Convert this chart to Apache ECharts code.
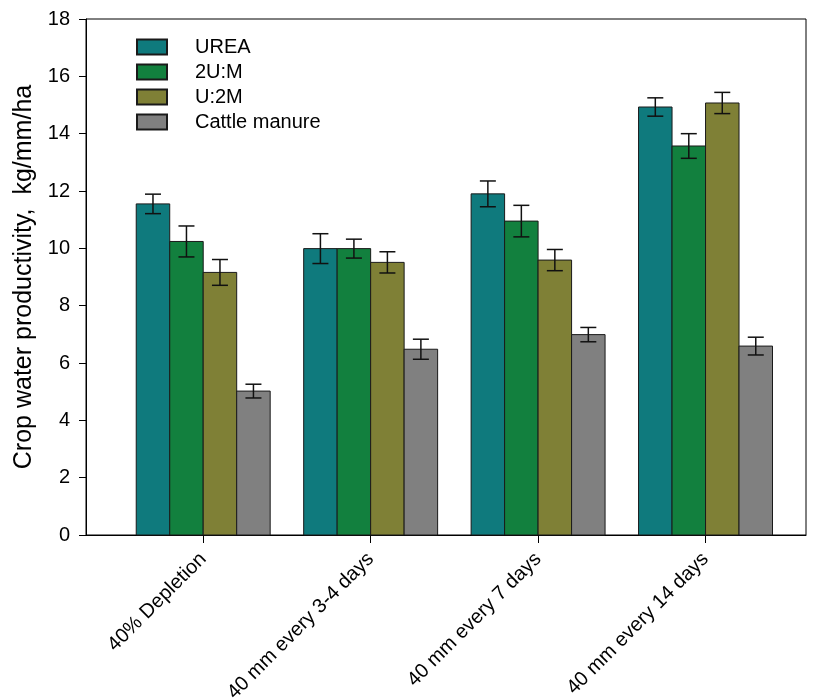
<!DOCTYPE html>
<html>
<head>
<meta charset="utf-8">
<script src="https://cdn.jsdelivr.net/npm/echarts@6/dist/echarts.min.js"></script>
<style>html,body{margin:0;padding:0;background:#fff}#c{width:817px;height:700px}</style>
</head>
<body>
<div id="c"></div>
<script>
const categories = ['40% Depletion', '40 mm every 3-4 days', '40 mm every 7 days', '40 mm every 14 days'];
const seriesNames = ['UREA', '2U:M', 'U:2M', 'Cattle manure'];
const ureaVals = [11.55, 9.99, 11.90, 14.93];
const ureaErr = [0.34, 0.52, 0.45, 0.32];
const u2mVals = [10.24, 9.99, 10.95, 13.57];
const u2mErr = [0.54, 0.33, 0.55, 0.43];
const um2Vals = [9.16, 9.51, 9.59, 15.07];
const um2Err = [0.45, 0.37, 0.37, 0.37];
const manureVals = [5.02, 6.48, 6.99, 6.59];
const manureErr = [0.24, 0.35, 0.25, 0.31];

const colors = ['#0f7a7d', '#12803e', '#7f8036', '#808080'];
const allVals = [ureaVals, u2mVals, um2Vals, manureVals];
const allErr = [ureaErr, u2mErr, um2Err, manureErr];
const barW = 0.2;
const offsets = [-1.5, -0.5, 0.5, 1.5].map(k => k * barW);
const FONT = 'Liberation Sans, Arial, sans-serif';

function makeSeries(s) {
  return {
    name: seriesNames[s],
    type: 'custom',
    itemStyle: { color: colors[s], borderColor: '#1a1a1a', borderWidth: 1 },
    encode: { x: 0, y: 1 },
    data: categories.map((c, i) => [i + 1, allVals[s][i], allErr[s][i]]),
    renderItem: function (params, api) {
      const x = api.value(0), v = api.value(1), e = api.value(2);
      const cx = x + offsets[s];
      const p0 = api.coord([cx - barW / 2, 0]);
      const p1 = api.coord([cx + barW / 2, v]);
      const t = api.coord([cx, v + e]);
      const b = api.coord([cx, v - e]);
      const half = 8;
      const ls = { stroke: '#111', lineWidth: 1.5 };
      return {
        type: 'group',
        children: [
          { type: 'rect', shape: { x: p0[0], y: p1[1], width: p1[0] - p0[0], height: p0[1] - p1[1] },
            style: { fill: colors[s], stroke: '#1a1a1a', lineWidth: 1 } },
          { type: 'line', shape: { x1: t[0], y1: t[1], x2: b[0], y2: b[1] }, style: ls, z2: 10 },
          { type: 'line', shape: { x1: t[0] - half, y1: t[1], x2: t[0] + half, y2: t[1] }, style: ls, z2: 10 },
          { type: 'line', shape: { x1: b[0] - half, y1: b[1], x2: b[0] + half, y2: b[1] }, style: ls, z2: 10 }
        ]
      };
    }
  };
}

const chart = echarts.init(document.getElementById('c'), null, { renderer: 'canvas' });
chart.setOption({
  animation: false,
  backgroundColor: '#fff',
  textStyle: { fontFamily: FONT },
  grid: { left: 86, right: 11, top: 19, bottom: 165, outerBoundsMode: 'none', containLabel: false,
    show: true, borderColor: '#000', borderWidth: 1, backgroundColor: 'transparent' },
  legend: {
    orient: 'vertical', left: 131, top: 32,
    itemWidth: 30, itemHeight: 15, itemGap: 5,
    icon: 'rect',
    textStyle: { fontSize: 20, color: '#000', fontFamily: FONT, padding: [0, 0, 0, 23] },
    data: seriesNames
  },
  xAxis: {
    type: 'value', min: 0.3, max: 4.6,
    splitLine: { show: false },
    axisLine: { show: true, lineStyle: { color: '#000', width: 1 } },
    axisTick: { show: true, inside: false, length: 8, lineStyle: { color: '#000' }, customValues: [1, 2, 3, 4] },
    axisLabel: {
      customValues: [1, 2, 3, 4], rotate: 45, fontSize: 20, color: '#000', fontFamily: FONT, margin: 21,
      formatter: v => categories[Math.round(v) - 1]
    }
  },
  yAxis: {
    type: 'value', min: 0, max: 18, interval: 2,
    name: 'Crop water productivity,  kg/mm/ha',
    nameLocation: 'middle', nameGap: 46,
    nameTextStyle: { fontSize: 25, color: '#000', fontFamily: FONT },
    splitLine: { show: false },
    axisLine: { show: true, lineStyle: { color: '#000', width: 1 } },
    axisTick: { show: true, inside: false, length: 7, lineStyle: { color: '#000' } },
    axisLabel: { fontSize: 20, color: '#000', fontFamily: FONT, margin: 16 }
  },
  series: [0, 1, 2, 3].map(makeSeries)
});
</script>
</body>
</html>
